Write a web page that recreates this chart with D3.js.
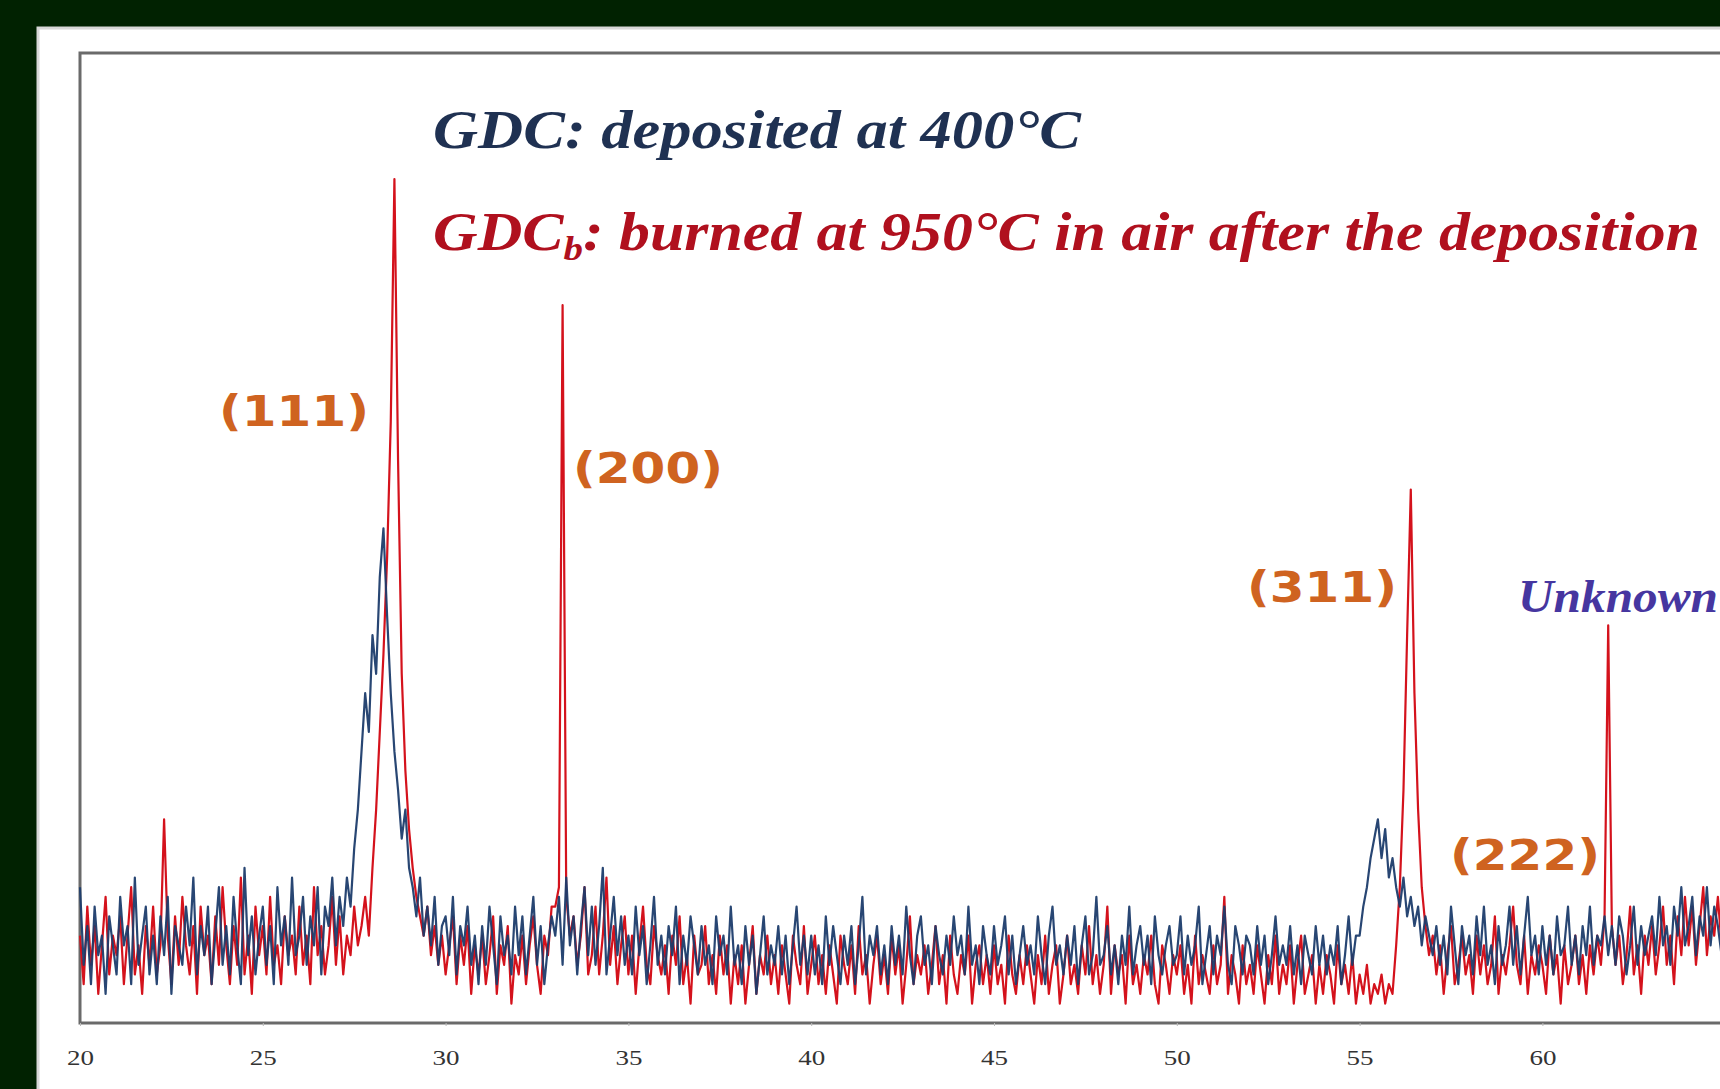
<!DOCTYPE html>
<html><head><meta charset="utf-8">
<script src="https://cdn.jsdelivr.net/npm/d3@7"></script>
<style>
html,body{margin:0;padding:0;overflow:hidden;background:#012201;}
svg{display:block;}
</style></head>
<body>
<svg id="chart" width="1720" height="1089"></svg>
<script>
// 2θ grid: 20.0 → 65.0 in 0.1° steps
const angleStart = 20.0, angleStep = 0.1;
// x-axis tick labels
const tickLabels = [20, 25, 30, 35, 40, 45, 50, 55, 60, 65, 70, 75, 80];
// GDCb (burned at 950 °C) – red
const gdcBurned = [
 9,4,12,6,10,3,8,13,5,9,
 7,11,4,9,14,5,8,3,10,6,
 12,5,8,21,9,4,11,6,13,8,
 5,10,3,12,7,9,4,11,6,14,
 8,4,10,6,15,5,9,3,12,7,
 10,5,13,6,8,4,11,7,9,5,
 12,6,9,4,14,7,10,5,8,13,
 6,11,5,9,7,12,8,10,13,9,
 16,22,30,38,48,62,87,58,36,26,
 20,16,13,11,9,12,7,10,6,9,
 5,8,11,4,9,6,10,3,8,5,
 9,4,7,11,3,8,6,10,2,7,
 5,9,4,8,11,6,3,9,7,12,
 12,14,74,13,9,11,6,9,14,5,
 7,12,5,9,15,6,10,4,8,11,
 5,9,3,8,12,6,4,10,7,5,
 8,3,9,6,11,4,7,2,9,5,
 6,10,4,7,3,9,5,8,2,7,
 4,8,2,6,10,3,7,5,9,4,
 7,3,8,5,2,9,6,4,10,3,
 6,9,4,7,3,8,5,2,9,6,
 4,8,3,10,5,7,2,6,9,4,
 7,3,9,5,8,2,6,11,4,7,
 5,8,3,6,10,4,7,2,9,5,
 3,7,5,9,2,6,8,4,7,3,
 8,4,6,2,9,5,3,7,4,8,
 5,2,7,4,9,3,6,8,2,5,
 9,4,6,3,8,5,10,4,7,3,
 6,12,3,8,5,7,2,9,4,6,
 3,7,5,9,4,2,8,6,3,7,
 5,8,3,6,2,9,4,7,5,3,
 8,4,6,13,3,7,5,2,8,4,
 6,3,8,5,2,7,4,9,3,6,
 4,8,2,6,9,3,5,7,2,6,
 3,7,5,2,8,4,6,3,7,2,
 5,3,6,2,4,3,5,2,4,3,
 8,14,24,40,55,34,22,14,10,7,
 9,5,8,3,7,10,4,6,9,5,
 7,3,9,5,8,4,6,11,3,7,
 5,8,12,6,4,9,3,7,5,8,
 6,3,9,5,7,2,8,4,6,9,
 4,7,3,8,5,9,6,11,41,10,
 6,9,4,7,12,5,8,3,9,6,
 10,5,8,12,6,9,4,11,7,13,
 8,12,6,10,14,7,11,9,13,8,
 10
];
// GDC (deposited at 400 °C) – navy
const gdcDeposited = [
 14,6,10,4,12,7,9,3,11,8,
 5,13,8,10,4,15,6,9,12,5,
 9,4,11,7,13,3,10,8,6,12,
 8,15,5,10,7,12,4,9,14,6,
 10,5,13,8,4,16,7,11,5,9,
 12,6,10,4,14,8,11,6,15,7,
 9,13,6,11,8,14,5,12,10,15,
 8,13,10,15,12,18,22,28,34,30,
 40,36,46,51,42,34,28,24,19,22,
 16,14,11,15,9,12,8,13,6,10,
 11,7,13,5,10,8,12,6,9,4,
 10,6,12,8,4,11,7,9,5,12,
 7,11,5,9,13,6,10,4,8,11,
 9,13,6,15,8,11,5,10,14,7,
 12,6,10,16,5,9,13,7,11,6,
 9,5,12,7,10,4,8,13,6,9,
 5,10,7,12,4,9,6,11,8,5,
 10,6,8,4,11,7,9,5,12,6,
 8,4,10,6,9,3,7,11,5,8,
 6,10,5,9,4,8,12,6,9,5,
 9,5,8,4,11,6,10,7,4,9,
 6,10,4,8,13,5,9,7,10,5,
 8,4,10,6,9,5,12,7,4,9,
 11,6,8,4,10,7,5,9,6,11,
 7,9,5,12,6,8,4,10,7,5,
 10,6,8,11,5,9,4,7,10,6,
 8,5,11,7,4,9,12,6,8,5,
 9,6,10,4,8,11,5,7,13,6,
 7,10,5,8,4,9,6,12,5,8,
 10,6,9,4,11,7,5,8,10,6,
 7,11,5,9,6,8,12,4,7,10,
 5,9,7,12,6,4,10,8,5,9,
 8,5,10,6,9,4,7,11,6,8,
 6,10,5,8,4,9,7,5,10,6,
 9,5,8,6,10,4,7,11,6,9,
 9,12,14,17,19,21,17,20,15,17,
 14,12,15,11,13,10,12,8,11,9,
 7,10,6,9,5,12,8,4,10,7,
 9,5,11,7,12,6,8,4,10,6,
 8,12,6,10,5,9,13,7,9,5,
 10,6,9,5,11,7,8,12,6,9,
 5,10,7,12,6,9,8,11,7,10,
 6,11,9,5,8,12,6,10,7,9,
 11,7,13,8,10,6,12,9,14,8,
 10,13,7,11,9,14,8,12,10,7,
 9
];
const titleDeposited = "GDC: deposited at 400°C";
const titleBurnedMain = "GDC";
const titleBurnedSub = "b";
const titleBurnedRest = ": burned at 950°C in air after the deposition";
const peakLabels = ["(111)", "(200)", "(311)", "(222)"];
const unknownLabel = "Unknown";

const W = 1720, H = 1089;
const svg = d3.select("#chart");
// white panel
svg.append("rect").attr("x",38).attr("y",28).attr("width",W).attr("height",H)
  .attr("fill","#ffffff").attr("stroke","#d8d8d8").attr("stroke-width",3);

const x = d3.scaleLinear().domain([20, 80]).range([80, 80 + 60*36.56]);
const y = d3.scaleLinear().domain([0, 100]).range([1023, 53]);

const angles = gdcBurned.map((_, i) => +(angleStart + i*angleStep).toFixed(1));

// frame
svg.append("rect").attr("x", x(20)).attr("y", y(100))
  .attr("width", x(80)-x(20)).attr("height", y(0)-y(100))
  .attr("fill","none").attr("stroke","#6a6a6a").attr("stroke-width",3);

const line = d3.line().x((d,i)=>x(angles[i])).y(d=>y(d));
svg.append("path").datum(gdcBurned).attr("d",line)
  .attr("fill","none").attr("stroke","#d4121c").attr("stroke-width",2.2).attr("stroke-linejoin","round");
svg.append("path").datum(gdcDeposited).attr("d",line)
  .attr("fill","none").attr("stroke","#1c3c6c").attr("stroke-width",2.2).attr("stroke-linejoin","round").attr("opacity",0.95);

// axis (only labels inside the visible window)
const axis = d3.axisBottom(x).tickValues(tickLabels).tickSize(3).tickPadding(24).tickFormat(d3.format("d"));
const ag = svg.append("g").attr("transform",`translate(0,${y(0)})`).call(axis);
ag.select(".domain").remove();
ag.selectAll(".tick line").attr("stroke","#bbbbbb");
ag.selectAll("text").attr("font-family","Liberation Serif").attr("font-size",21).attr("fill","#333333")
  .attr("textLength",27).attr("lengthAdjust","spacingAndGlyphs");
ag.selectAll(".tick").filter(d => x(d) > W).remove();

// titles
svg.append("text").attr("x",433).attr("y",148)
  .attr("font-family","Liberation Serif").attr("font-style","italic").attr("font-weight","bold")
  .attr("font-size",54).attr("fill","#1f3152").attr("textLength",648).attr("lengthAdjust","spacingAndGlyphs")
  .text(titleDeposited);
const t2 = svg.append("text").attr("x",433).attr("y",250)
  .attr("font-family","Liberation Serif").attr("font-style","italic").attr("font-weight","bold")
  .attr("font-size",54).attr("fill","#b0101e");
t2.append("tspan").text(titleBurnedMain);
t2.append("tspan").attr("dy",10).attr("font-size",34).text(titleBurnedSub);
t2.append("tspan").attr("dy",-10).text(titleBurnedRest);
t2.attr("textLength",1267).attr("lengthAdjust","spacingAndGlyphs");

// peak labels
const labelPos = [[219,426],[573,483],[1247,602],[1450,870]];
peakLabels.forEach((t,i)=>{
  svg.append("text").attr("x",labelPos[i][0]).attr("y",labelPos[i][1])
    .attr("font-family","DejaVu Sans").attr("font-weight","bold").attr("font-size",42)
    .attr("fill","#cf6320").attr("textLength",150).attr("lengthAdjust","spacingAndGlyphs").text(t);
});
svg.append("text").attr("x",1518).attr("y",612)
  .attr("font-family","Liberation Serif").attr("font-style","italic").attr("font-weight","bold")
  .attr("font-size",46).attr("fill","#4636a0").attr("textLength",200).attr("lengthAdjust","spacingAndGlyphs")
  .text(unknownLabel);
</script>
</body></html>
